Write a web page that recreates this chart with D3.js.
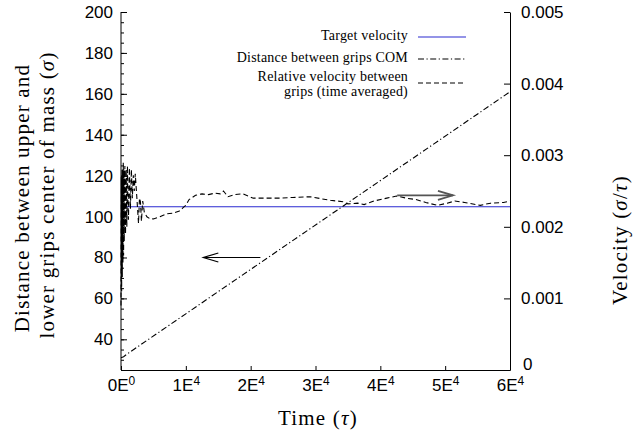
<!DOCTYPE html>
<html lang="en">
<head>
    <meta charset="UTF-8">
    <script src="https://d3js.org/d3.v7.min.js"></script>
    <title>Grip distance and relative velocity</title>
    <style>
        body { margin: 0; background: #fff; }
        svg { display: block; }
        .tick-label { font-family: 'Liberation Sans', Arial, sans-serif; font-size: 17px; fill: #000; }
        .title { font-family: 'Liberation Serif', 'Times New Roman', serif; font-size: 21px; letter-spacing: 1.2px; fill: #000; }
        .legend-text { font-family: 'Liberation Serif', 'Times New Roman', serif; font-size: 14px; letter-spacing: 0.2px; fill: #000; }
    </style>
</head>
<body>
    <svg width="643" height="434"></svg>
    <script>
        // target velocity (sigma/tau)
        const targetVelocity = 0.00228;

        // distance between grips COM (left axis, sigma) vs time (tau)
        const distTime = [0, 400, 800, 60000];
        const distValue = [31, 31.5, 32.5, 161];

        // relative velocity between grips, time averaged (right axis, sigma/tau)
        const velTime = [0, 50, 100, 150, 200, 250, 300, 350, 400, 450, 500, 600, 700, 800, 900, 1000,
            1150, 1300, 1450, 1600, 1750, 1900, 2050, 2200, 2450, 2700, 2850, 3000, 3150, 3350, 3600,
            4000, 4500, 5000, 6000, 7000, 8000, 9000, 9500, 10000, 10500, 11500, 12500, 13500, 14500,
            15300, 15800, 16500, 17500, 18800, 20400, 22000, 24500, 26500, 29200, 31000, 32300, 34300,
            35000, 36500, 37500, 39000, 41000, 42500, 44000, 45500, 47000, 48800, 50300, 51500, 53000,
            55400, 57000, 59000, 60000];
        const velValue = [0.0009, 0.0027, 0.0011, 0.0028, 0.0013, 0.0028, 0.0015, 0.0029, 0.0016, 0.0028,
            0.0018, 0.00285, 0.0019, 0.0028, 0.0020, 0.00285, 0.0021, 0.00282, 0.00225, 0.0028, 0.0024,
            0.00272, 0.0025, 0.00274, 0.0024, 0.00205, 0.0024, 0.00235, 0.00208, 0.00236, 0.0022,
            0.00214, 0.00211, 0.00211, 0.00214, 0.00218, 0.00219, 0.00222, 0.00226, 0.0023, 0.00238,
            0.00244, 0.00246, 0.00245, 0.00247, 0.00246, 0.0025, 0.00242, 0.00245, 0.00246, 0.0024,
            0.0024, 0.0024, 0.00241, 0.00242, 0.00239, 0.00237, 0.00235, 0.00232, 0.00233, 0.00231,
            0.00236, 0.0024, 0.00243, 0.0024, 0.00238, 0.00234, 0.0023, 0.00233, 0.00236, 0.00234,
            0.0023, 0.00233, 0.00234, 0.00236];

        // tick labels
        const xTicks = [0, 10000, 20000, 30000, 40000, 50000, 60000];
        const xTickMant = ["0", "1", "2", "3", "4", "5", "6"];
        const xTickExp = ["0", "4", "4", "4", "4", "4", "4"];
        const yLeftTicks = [40, 60, 80, 100, 120, 140, 160, 180, 200];
        const yRightTicks = [0, 0.001, 0.002, 0.003, 0.004, 0.005];
        const yRightLabels = ["0", "0.001", "0.002", "0.003", "0.004", "0.005"];

        // annotation arrows (time from, time to, value, axis)
        const arrowFrom = [21500, 42600];
        const arrowTo = [12700, 51200];
        const arrowValue = [80, 0.00244];
        const arrowAxis = ["left", "right"];

        const svg = d3.select("svg");
        const x = d3.scaleLinear().domain([0, 60000]).range([121, 510]);
        const yL = d3.scaleLinear().domain([25, 200]).range([370, 12]);
        const yR = d3.scaleLinear().domain([0, 0.005]).range([370, 12]);

        // left axis: minor + major ticks (inward)
        svg.append("g").attr("transform", "translate(121,0)")
            .call(d3.axisLeft(yL).tickValues(d3.range(25, 201, 5)).tickSize(-3).tickSizeOuter(0).tickFormat(""))
            .call(g => g.select(".domain").remove());
        const gl = svg.append("g").attr("transform", "translate(121,0)")
            .call(d3.axisLeft(yL).tickValues(yLeftTicks).tickSize(-6).tickSizeOuter(0).tickPadding(8));
        gl.selectAll("text").attr("class", "tick-label").attr("font-family", null).attr("font-size", null);
        gl.select(".domain").attr("d", `M0,${yL(200)}V${yL(25)}`);

        // right axis
        const gr = svg.append("g").attr("transform", "translate(510,0)")
            .call(d3.axisRight(yR).tickValues(yRightTicks).tickSize(-6).tickSizeOuter(0).tickPadding(11)
                .tickFormat((d, i) => yRightLabels[i]));
        gr.selectAll("text").attr("class", "tick-label").attr("font-family", null).attr("font-size", null);
        gr.selectAll(".tick").filter(d => d === 0).select("text").attr("dy", "-0.05em").attr("x", 13);

        // bottom axis
        const gb = svg.append("g").attr("transform", "translate(0,370)")
            .call(d3.axisBottom(x).tickValues(xTicks).tickSize(-4).tickSizeOuter(0).tickPadding(9).tickFormat(""));
        gb.selectAll(".tick text").each(function (d, i) {
            const t = d3.select(this).attr("class", "tick-label").attr("font-family", null).attr("font-size", null);
            t.append("tspan").text(xTickMant[i] + "E");
            t.append("tspan").attr("dy", -6).attr("font-size", 12).text(xTickExp[i]);
        });
        svg.selectAll(".domain").attr("stroke", "#000");

        // target velocity
        svg.append("line")
            .attr("x1", x(0)).attr("x2", x(60000))
            .attr("y1", yR(targetVelocity)).attr("y2", yR(targetVelocity))
            .attr("stroke", "#2a2ad0").attr("stroke-width", 1.1);

        // distance line
        const distLine = d3.line().x((d, i) => x(distTime[i])).y(d => yL(d));
        svg.append("path").datum(distValue)
            .attr("d", distLine).attr("fill", "none")
            .attr("stroke", "#000").attr("stroke-width", 1.1)
            .attr("stroke-dasharray", "6,2.5,1.2,2.5");

        // velocity line
        const velLine = d3.line().x((d, i) => x(velTime[i])).y(d => yR(d));
        svg.append("path").datum(velValue)
            .attr("d", velLine).attr("fill", "none")
            .attr("stroke", "#000").attr("stroke-width", 1.1)
            .attr("stroke-dasharray", "5,3");

        // arrows
        arrowFrom.forEach((f, i) => {
            const y = arrowAxis[i] === "left" ? yL(arrowValue[i]) : yR(arrowValue[i]);
            const x1 = x(f), x2 = x(arrowTo[i]);
            const dir = x2 > x1 ? -1 : 1;
            const col = i === 0 ? "#000" : "#555";
            const w = i === 0 ? 1.2 : 1.8;
            svg.append("line").attr("x1", x1).attr("x2", x2).attr("y1", y).attr("y2", y)
                .attr("stroke", col).attr("stroke-width", w);
            svg.append("path")
                .attr("d", `M${x2 + dir * 15},${y - 4.5}L${x2},${y}L${x2 + dir * 15},${y + 4.5}`)
                .attr("fill", "none").attr("stroke", col).attr("stroke-width", w);
        });

        // legend
        const legendText = [["Target velocity"], ["Distance between grips COM"], ["Relative velocity between", "grips (time averaged)"]];
        const legendBase = [[40], [62], [81, 96]];
        const legendLineY = [37, 59, 83];
        const legendDash = [null, "6,2.5,1.2,2.5", "5,3"];
        const legendColor = ["#2a2ad0", "#000", "#000"];
        legendText.forEach((lines, i) => {
            lines.forEach((s, j) => {
                svg.append("text").attr("class", "legend-text")
                    .attr("x", 408).attr("y", legendBase[i][j]).attr("text-anchor", "end").text(s);
            });
            svg.append("line").attr("x1", 418).attr("x2", 466)
                .attr("y1", legendLineY[i]).attr("y2", legendLineY[i])
                .attr("stroke", legendColor[i]).attr("stroke-width", 1.1)
                .attr("stroke-dasharray", legendDash[i]);
        });

        // axis titles
        svg.append("text").attr("class", "title").attr("text-anchor", "middle")
            .attr("transform", "translate(29,198) rotate(-90)").text("Distance between upper and");
        const t2 = svg.append("text").attr("class", "title").attr("text-anchor", "middle")
            .attr("transform", "translate(54,195) rotate(-90)");
        t2.append("tspan").text("lower grips center of mass (");
        t2.append("tspan").attr("font-style", "italic").text("σ");
        t2.append("tspan").text(")");

        const tr = svg.append("text").attr("class", "title").attr("text-anchor", "middle")
            .attr("transform", "translate(627,240) rotate(-90)");
        tr.append("tspan").text("Velocity (");
        tr.append("tspan").attr("font-style", "italic").text("σ");
        tr.append("tspan").text("/");
        tr.append("tspan").attr("font-style", "italic").text("τ");
        tr.append("tspan").text(")");

        const tb = svg.append("text").attr("class", "title").attr("text-anchor", "middle")
            .attr("x", 318).attr("y", 425);
        tb.append("tspan").text("Time (");
        tb.append("tspan").attr("font-style", "italic").text("τ");
        tb.append("tspan").text(")");
    </script>
</body>
</html>
